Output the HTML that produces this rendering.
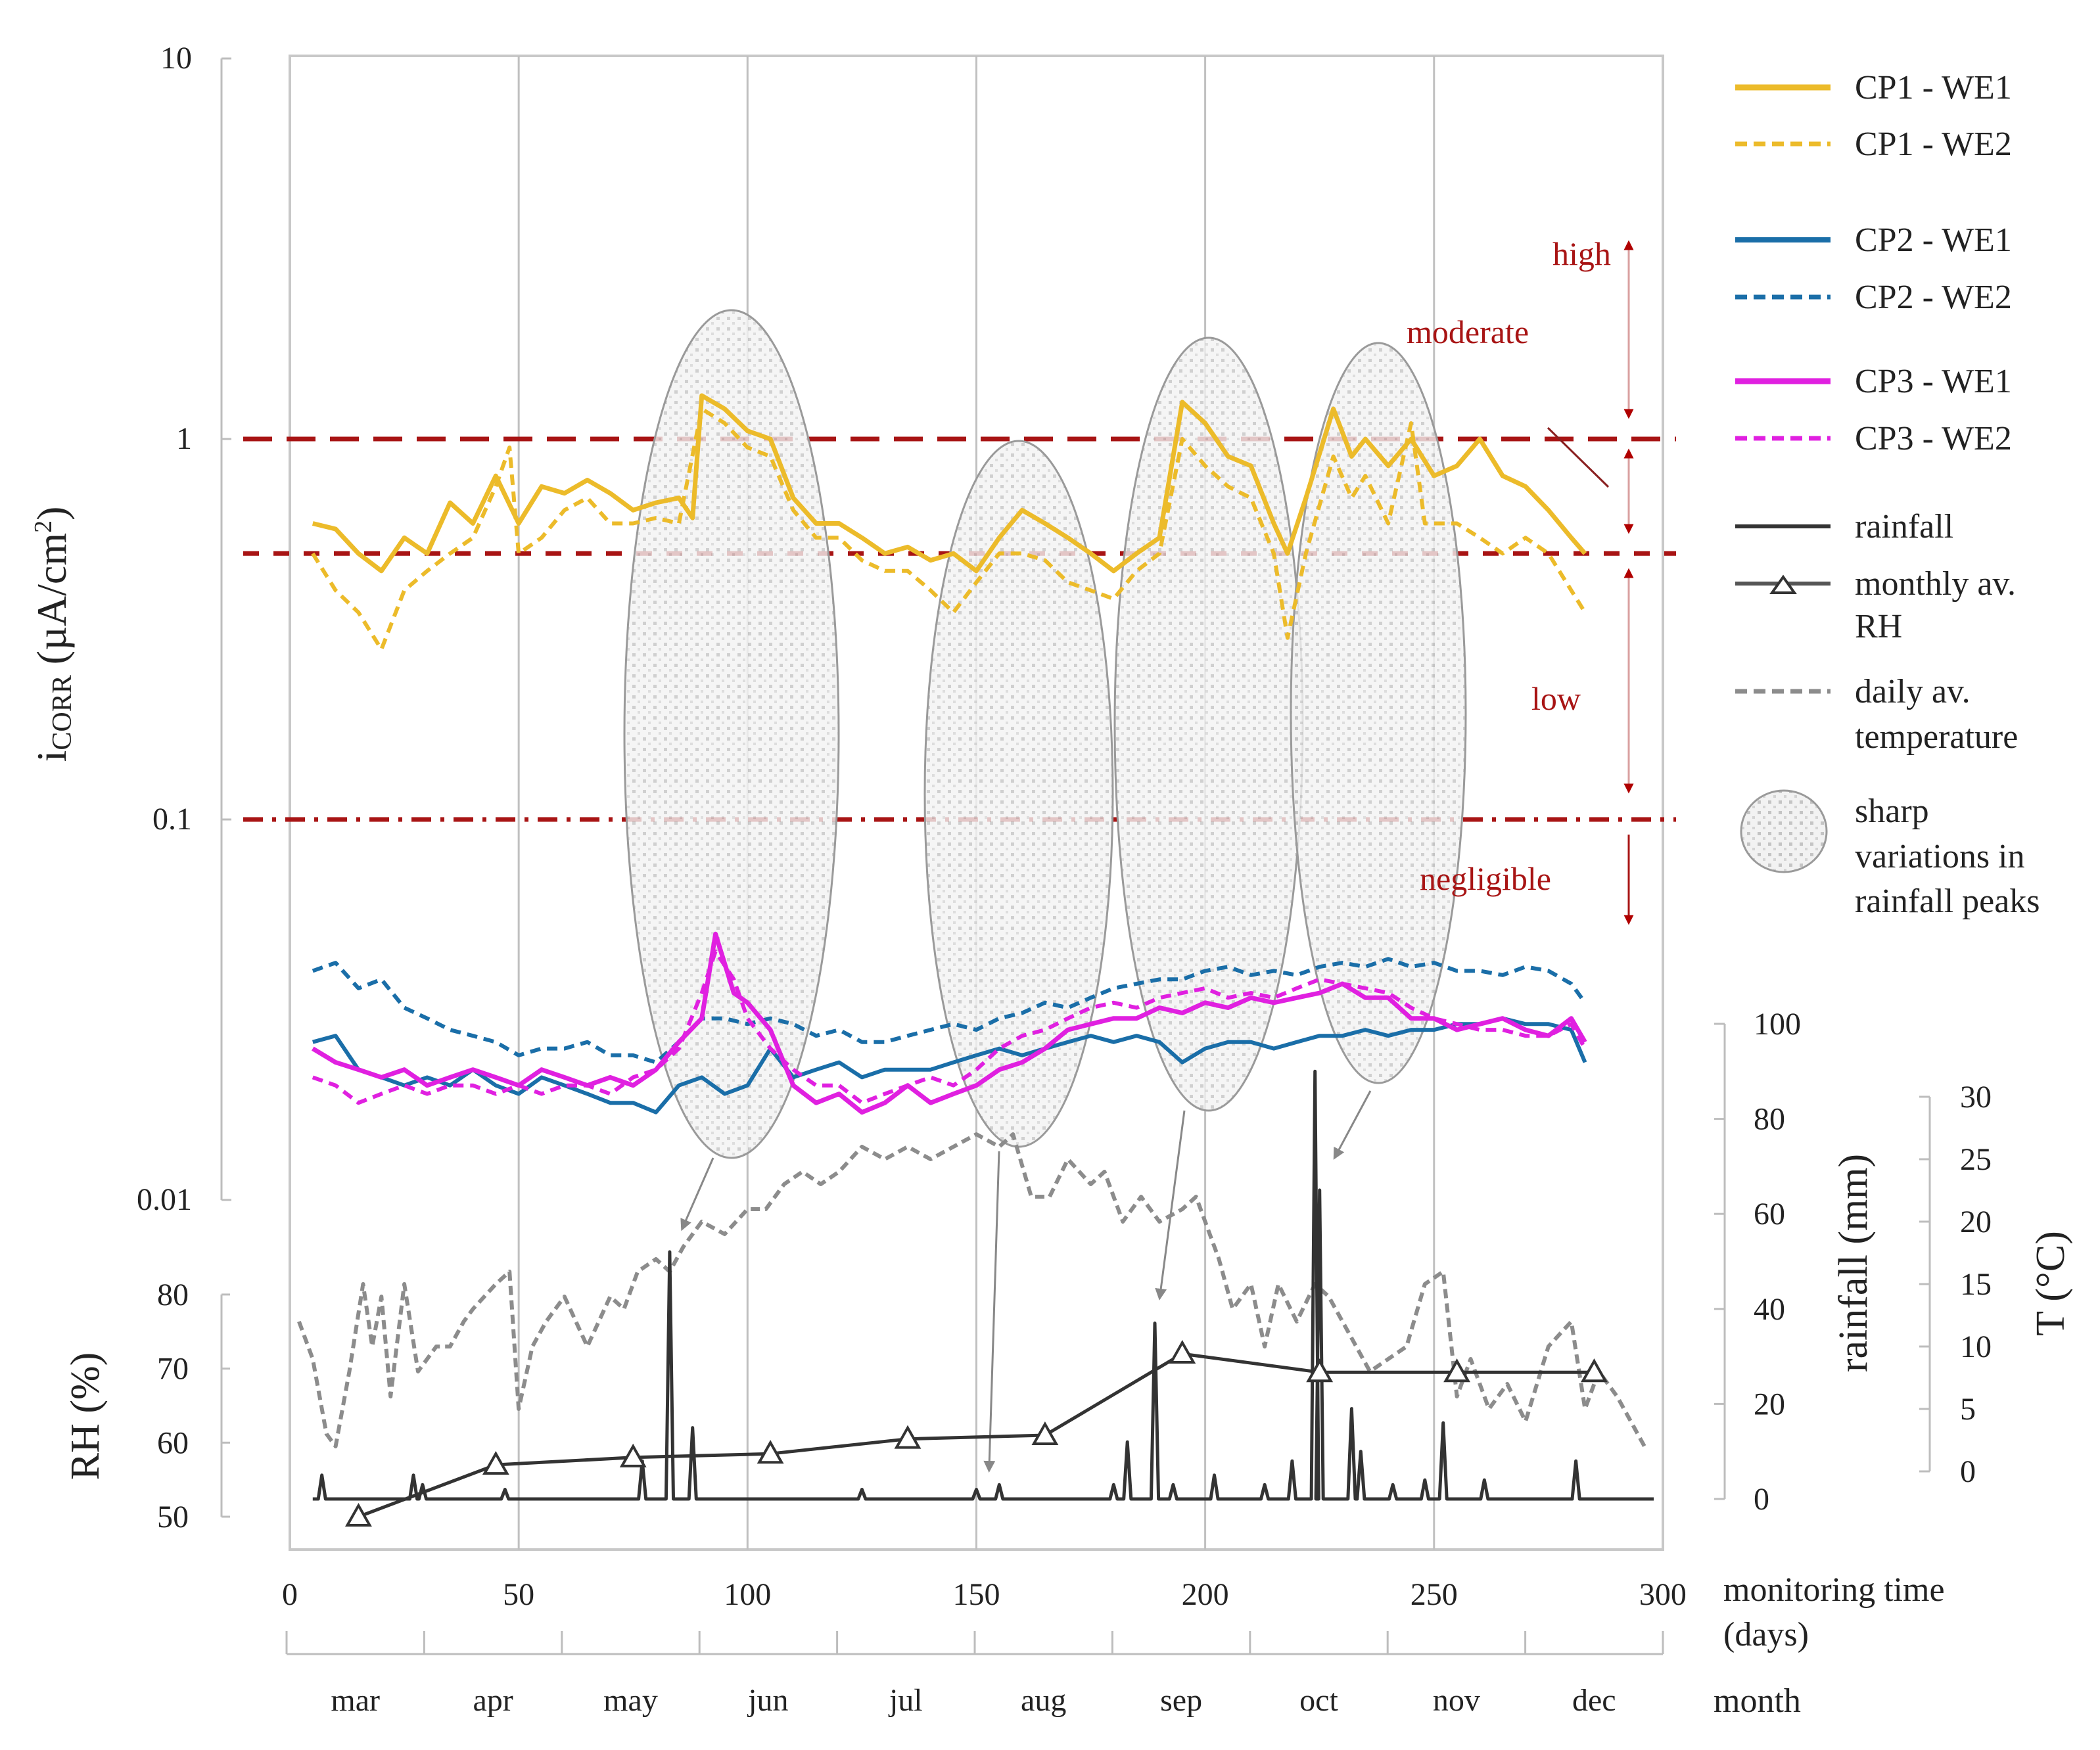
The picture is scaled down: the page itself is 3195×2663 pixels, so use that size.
<!DOCTYPE html>
<html><head><meta charset="utf-8"><style>
html,body{margin:0;padding:0;background:#fff;}
svg{display:block;font-family:"Liberation Serif",serif;}
</style></head><body>
<svg id="chart" width="3195" height="2663" viewBox="0 0 3195 2663" xmlns="http://www.w3.org/2000/svg">
<defs>
<pattern id="dots" width="16" height="16" patternUnits="userSpaceOnUse">
<rect width="16" height="16" fill="#f2f2f2"/>
<rect x="2" y="2" width="5" height="5" fill="#c4c4c4"/>
<rect x="10" y="10" width="4" height="4" fill="#d4d4d4"/>
</pattern>
<marker id="redArrow" viewBox="0 0 10 10" refX="5" refY="5" markerWidth="5" markerHeight="5" orient="auto-start-reverse"><path d="M0,0 L10,5 L0,10 z" fill="#b00000"/></marker>
<marker id="grayArrow" viewBox="0 0 10 10" refX="5" refY="5" markerWidth="6" markerHeight="6" orient="auto"><path d="M0,0 L10,5 L0,10 z" fill="#888"/></marker>
</defs>
<g id="grid"></g>
<g id="ellipses"></g>
<g id="series"></g>
<g id="axes"></g>
<g id="legend"></g>
</svg>
<script>
// ---------- data ----------
const cp1we1Days=[5,10,15,20,25,30,35,40,45,50,55,60,65,70,75,80,85,88,90,95,100,105,110,115,120,125,130,135,140,145,150,155,160,165,170,175,180,185,190,195,200,205,210,215,218,222,228,232,235,240,245,250,255,260,265,270,275,280,283];
const cp1we1Vals=[0.6,0.58,0.5,0.45,0.55,0.5,0.68,0.6,0.8,0.6,0.75,0.72,0.78,0.72,0.65,0.68,0.7,0.62,1.3,1.2,1.05,1.0,0.7,0.6,0.6,0.55,0.5,0.52,0.48,0.5,0.45,0.55,0.65,0.6,0.55,0.5,0.45,0.5,0.55,1.25,1.1,0.9,0.85,0.6,0.5,0.7,1.2,0.9,1.0,0.85,1.0,0.8,0.85,1.0,0.8,0.75,0.65,0.55,0.5];
const cp1we2Days=[5,10,15,20,25,30,35,40,45,48,50,55,60,65,70,75,80,85,90,95,100,105,110,115,120,125,130,135,140,145,150,155,160,165,170,175,180,185,190,195,200,205,210,215,218,222,228,232,235,240,245,248,255,260,265,270,275,280,283];
const cp1we2Vals=[0.5,0.4,0.35,0.28,0.4,0.45,0.5,0.55,0.75,0.95,0.5,0.55,0.65,0.7,0.6,0.6,0.62,0.6,1.2,1.1,0.95,0.9,0.65,0.55,0.55,0.48,0.45,0.45,0.4,0.35,0.42,0.5,0.5,0.48,0.42,0.4,0.38,0.45,0.5,1.0,0.85,0.75,0.7,0.5,0.3,0.5,0.9,0.7,0.8,0.6,1.1,0.6,0.6,0.55,0.5,0.55,0.5,0.4,0.35];
const stdDays=[5,10,15,20,25,30,35,40,45,50,55,60,65,70,75,80,85,90,95,100,105,110,115,120,125,130,135,140,145,150,155,160,165,170,175,180,185,190,195,200,205,210,215,220,225,230,235,240,245,250,255,260,265,270,275,280,283];
const cp2we1Vals=[0.026,0.027,0.022,0.021,0.02,0.021,0.02,0.022,0.02,0.019,0.021,0.02,0.019,0.018,0.018,0.017,0.02,0.021,0.019,0.02,0.025,0.021,0.022,0.023,0.021,0.022,0.022,0.022,0.023,0.024,0.025,0.024,0.025,0.026,0.027,0.026,0.027,0.026,0.023,0.025,0.026,0.026,0.025,0.026,0.027,0.027,0.028,0.027,0.028,0.028,0.029,0.029,0.03,0.029,0.029,0.028,0.023];
const cp2we2Vals=[0.04,0.042,0.036,0.038,0.032,0.03,0.028,0.027,0.026,0.024,0.025,0.025,0.026,0.024,0.024,0.023,0.026,0.03,0.03,0.029,0.03,0.029,0.027,0.028,0.026,0.026,0.027,0.028,0.029,0.028,0.03,0.031,0.033,0.032,0.034,0.036,0.037,0.038,0.038,0.04,0.041,0.039,0.04,0.039,0.041,0.042,0.041,0.043,0.041,0.042,0.04,0.04,0.039,0.041,0.04,0.037,0.033];
const cp3Days=[5,10,15,20,25,30,35,40,45,50,55,60,65,70,75,80,85,90,93,97,100,105,110,115,120,125,130,135,140,145,150,155,160,165,170,175,180,185,190,195,200,205,210,215,220,225,230,235,240,245,250,255,260,265,270,275,280,283];
const cp3we1Vals=[0.025,0.023,0.022,0.021,0.022,0.02,0.021,0.022,0.021,0.02,0.022,0.021,0.02,0.021,0.02,0.022,0.026,0.03,0.05,0.035,0.033,0.028,0.02,0.018,0.019,0.017,0.018,0.02,0.018,0.019,0.02,0.022,0.023,0.025,0.028,0.029,0.03,0.03,0.032,0.031,0.033,0.032,0.034,0.033,0.034,0.035,0.037,0.034,0.034,0.03,0.03,0.028,0.029,0.03,0.028,0.027,0.03,0.026];
const cp3we2Vals=[0.021,0.02,0.018,0.019,0.02,0.019,0.02,0.02,0.019,0.02,0.019,0.02,0.02,0.019,0.021,0.022,0.025,0.035,0.045,0.038,0.03,0.025,0.022,0.02,0.02,0.018,0.019,0.02,0.021,0.02,0.022,0.025,0.027,0.028,0.03,0.032,0.033,0.032,0.034,0.035,0.036,0.034,0.035,0.034,0.036,0.038,0.037,0.036,0.035,0.032,0.03,0.029,0.028,0.028,0.027,0.027,0.029,0.025];
const tempDays=[2,5,8,10,13,16,18,20,22,25,28,32,35,38,40,45,48,50,53,56,60,65,70,73,76,80,83,86,90,95,100,104,108,112,116,120,125,130,135,140,145,150,155,158,162,166,170,175,178,182,186,190,195,198,200,203,206,210,213,216,220,224,227,230,233,236,240,244,248,252,255,258,262,266,270,275,280,283,286,290,293,296];
const tempVals=[12,9,3,2,8,15,10,14,6,15,8,10,10,12,13,15,16,5,10,12,14,10,14,13,16,17,16,18,20,19,21,21,23,24,23,24,26,25,26,25,26,27,26,27,22,22,25,23,24,20,22,20,21,22,20,17,13,15,10,15,12,15,14,12,10,8,9,10,15,16,6,9,5,7,4,10,12,5,8,6,4,2];
const rainDays=[7,27,29,47,77,83,88,125,150,155,180,183,189,193,202,213,219,224,225,232,234,241,248,252,261,281];
const rainVals=[5,5,3,2,8,52,15,2,2,3,3,12,37,3,5,3,8,90,65,19,10,3,4,16,4,8];
const rhDays=[15,45,75,105,135,165,195,225,255,285];
const rhVals=[50,57,58,58.5,60.5,61,72,69.5,69.5,69.5];
const xTicks=[0,50,100,150,200,250,300];
const icorrTicks=[10,1,0.1,0.01];
const rhTicks=[50,60,70,80];
const rainTicks=[0,20,40,60,80,100];
const tempTicks=[0,5,10,15,20,25,30];
const months=["mar","apr","may","jun","jul","aug","sep","oct","nov","dec"];

// ---------- scales ----------
const X=d=>441+d*6.963;
const Yi=v=>668-579*Math.log10(v);
const Yr=m=>2281-m*7.23;
const Yt=c=>2239-c*19;
const Yh=h=>2308-(h-50)*11.27;
const NS="http://www.w3.org/2000/svg";
function mk(tag,attrs,parent,text){const e=document.createElementNS(NS,tag);for(const k in attrs)e.setAttribute(k,attrs[k]);if(text!==undefined)e.textContent=text;parent.appendChild(e);return e;}
const grid=document.getElementById('grid'),ell=document.getElementById('ellipses'),ser=document.getElementById('series'),ax=document.getElementById('axes'),leg=document.getElementById('legend');

let fr=mk('rect',{x:441,y:85,width:2089,height:2273,fill:'none',stroke:'#c8c8c8','stroke-width':4},grid);


xTicks.slice(1,-1).forEach(d=>{const l=mk('line',{x1:X(d),x2:X(d),y1:85,y2:2358,stroke:'#c0c0c0','stroke-width':3},grid);

});

[[1,'44 22'],[0.5,'24 22'],[0.1,'30 14 6 14']].forEach(([v,da])=>{const l=mk('line',{x1:370,x2:2550,y1:Yi(v),y2:Yi(v),stroke:'#a81414','stroke-width':7,'stroke-dasharray':da},grid);

});

[[1113,1117,163,645],[1550,1208,143,537],[1839,1102,143,588],[2097,1085,133,563]].forEach(e=>{const el=mk('ellipse',{cx:e[0],cy:e[1],rx:e[2],ry:e[3],fill:'url(#dots)','fill-opacity':0.8,stroke:'#9a9a9a','stroke-width':3},ell);

});
[[1085,1762,1040,1865],[1520,1752,1505,2232],[1802,1690,1765,1970],[2085,1660,2033,1757]].forEach(a=>{const l=mk('line',{x1:a[0],y1:a[1],x2:a[2],y2:a[3],stroke:'#888','stroke-width':3,'marker-end':'url(#grayArrow)'},ell);

});

function line(days,vals,ys,style,name){const d=days.map((t,i)=>(i?'L':'M')+X(t).toFixed(1)+','+ys(vals[i]).toFixed(1)).join(' ');const p=mk('path',Object.assign({d:d,fill:'none','stroke-linejoin':'round'},style),ser);

return p;}

line(tempDays,tempVals,Yt,{stroke:'#8c8c8c','stroke-width':6,'stroke-dasharray':'14 8'},'temperature-line');
(function(){let pts=[[5,0]];rainDays.forEach((d,i)=>{pts.push([d-0.8,0],[d,rainVals[i]],[d+0.8,0]);});pts.push([298,0]);
const p=mk('path',{d:pts.map((q,i)=>(i?'L':'M')+X(q[0]).toFixed(1)+','+Yr(q[1]).toFixed(1)).join(' '),fill:'none',stroke:'#333','stroke-width':5,'stroke-linejoin':'round'},ser);

})();
line(rhDays,rhVals,Yh,{stroke:'#333','stroke-width':5},'rh-line');
rhDays.forEach((d,i)=>{const x=X(d),y=Yh(rhVals[i]);const t=mk('path',{d:`M${x-17},${y+13} L${x},${y-17} L${x+17},${y+13} Z`,fill:'#fff',stroke:'#333','stroke-width':4},ser);

});
line(stdDays,cp2we2Vals,Yi,{stroke:'#1a6ea8','stroke-width':6,'stroke-dasharray':'16 10'},'cp2-we2-line');
line(stdDays,cp2we1Vals,Yi,{stroke:'#1a6ea8','stroke-width':6},'cp2-we1-line');
line(cp3Days,cp3we2Vals,Yi,{stroke:'#e020e0','stroke-width':6,'stroke-dasharray':'16 10'},'cp3-we2-line');
line(cp3Days,cp3we1Vals,Yi,{stroke:'#e020e0','stroke-width':7},'cp3-we1-line');
line(cp1we2Days,cp1we2Vals,Yi,{stroke:'#ecbb2a','stroke-width':6,'stroke-dasharray':'16 10'},'cp1-we2-line');
line(cp1we1Days,cp1we1Vals,Yi,{stroke:'#ecbb2a','stroke-width':7},'cp1-we1-line');

const AX={stroke:'#bdbdbd','stroke-width':3};
let a=mk('line',Object.assign({x1:337,x2:337,y1:Yi(10),y2:Yi(0.01)},AX),ax);


icorrTicks.forEach(v=>{mk('line',Object.assign({x1:337,x2:352,y1:Yi(v),y2:Yi(v)},AX),ax);const t=mk('text',{x:292,y:Yi(v)+15,'font-size':48,'text-anchor':'end',fill:'#222'},ax,String(v));

});
a=mk('line',Object.assign({x1:337,x2:337,y1:Yh(80),y2:Yh(50)},AX),ax);


rhTicks.forEach(v=>{mk('line',Object.assign({x1:337,x2:350,y1:Yh(v),y2:Yh(v)},AX),ax);const t=mk('text',{x:287,y:Yh(v)+16,'font-size':48,'text-anchor':'end',fill:'#222'},ax,String(v));

});
a=mk('line',Object.assign({x1:2624,x2:2624,y1:Yr(100),y2:Yr(0)},AX),ax);


rainTicks.forEach(v=>{mk('line',Object.assign({x1:2608,x2:2624,y1:Yr(v),y2:Yr(v)},AX),ax);const t=mk('text',{x:2668,y:Yr(v)+16,'font-size':48,fill:'#222'},ax,String(v));

});
a=mk('line',Object.assign({x1:2936,x2:2936,y1:Yt(30),y2:Yt(0)},AX),ax);


tempTicks.forEach(v=>{mk('line',Object.assign({x1:2920,x2:2936,y1:Yt(v),y2:Yt(v)},AX),ax);const t=mk('text',{x:2982,y:Yt(v)+16,'font-size':48,fill:'#222'},ax,String(v));

});
xTicks.forEach(d=>{const t=mk('text',{x:X(d),y:2442,'font-size':48,'text-anchor':'middle',fill:'#222'},ax,String(d));

});
a=mk('line',Object.assign({x1:436,x2:2530,y1:2517,y2:2517},AX),ax);


months.forEach((m,i)=>{const x0=436+i*209.4;mk('line',Object.assign({x1:x0,x2:x0,y1:2482,y2:2517},AX),ax);const t=mk('text',{x:x0+104.7,y:2603,'font-size':48,'text-anchor':'middle',fill:'#222'},ax,m);

});
mk('line',Object.assign({x1:2530,x2:2530,y1:2482,y2:2517},AX),ax);

function txt(x,y,s,size,name,extra){const t=mk('text',Object.assign({x:x,y:y,'font-size':size,fill:'#222'},extra||{}),ax,s);

return t;}
let yt=txt(0,0,'',64,'icorr-axis-title',{transform:'translate(100,965) rotate(-90)','text-anchor':'middle'});
yt.innerHTML='i<tspan font-size="42" dy="8">CORR</tspan><tspan dy="-8"> (µA/cm</tspan><tspan font-size="38" dy="-22">2</tspan><tspan dy="22">)</tspan>';
txt(0,0,'RH (%)',62,'rh-axis-title',{transform:'translate(150,2155) rotate(-90)','text-anchor':'middle'});
txt(0,0,'rainfall (mm)',62,'rainfall-axis-title',{transform:'translate(2840,1922) rotate(-90)','text-anchor':'middle'});
txt(0,0,'T (°C)',62,'temperature-axis-title',{transform:'translate(3140,1953) rotate(-90)','text-anchor':'middle'});
txt(2622,2436,'monitoring time',52,'x-axis-title');
txt(2622,2504,'(days)',52,'x-axis-title-unit');
txt(2607,2605,'month',52,'month-axis-title');

[['high',2362,403],['moderate',2140,522],['low',2330,1080],['negligible',2160,1354]].forEach(z=>txt(z[1],z[2],z[0],50,'zone-label-'+z[0],{fill:'#a81414'}));
[[373,630,true],[690,805,true],[872,1200,true],[1270,1400,false]].forEach(r=>{const l=mk('line',{x1:2478,x2:2478,y1:r[0],y2:r[1],stroke:r[2]?'#d9a0a0':'#a81414','stroke-width':3,'marker-end':'url(#redArrow)','marker-start':r[2]?'url(#redArrow)':''},ax);

});
a=mk('line',{x1:2355,y1:651,x2:2447,y2:741,stroke:'#8a2020','stroke-width':3},ax);



const lg=[['CP1 - WE1',133,'#ecbb2a',null,9],['CP1 - WE2',219,'#ecbb2a','18 10',7],['CP2 - WE1',365,'#1a6ea8',null,8],['CP2 - WE2',452,'#1a6ea8','18 10',7],['CP3 - WE1',580,'#e020e0',null,9],['CP3 - WE2',667,'#e020e0','18 10',7],['rainfall',801,'#333',null,6],['monthly av.',888,'#555',null,6],['daily av.',1052,'#8c8c8c','18 10',7]];
lg.forEach(e=>{const l=mk('line',{x1:2640,x2:2785,y1:e[1],y2:e[1],stroke:e[2],'stroke-width':e[4],'stroke-dasharray':e[3]||'none'},leg);


const t=mk('text',{x:2822,y:e[1]+17,'font-size':52,fill:'#222'},leg,e[0]);

});
a=mk('path',{d:'M2696,902 L2713,878 L2730,902 Z',fill:'#fff',stroke:'#333','stroke-width':4},leg);


[['RH',2822,970],['temperature',2822,1138],['sharp',2822,1251],['variations in',2822,1320],['rainfall peaks',2822,1388]].forEach(e=>{const t=mk('text',{x:e[1],y:e[2],'font-size':52,fill:'#222'},leg,e[0]);

});
a=mk('ellipse',{cx:2714,cy:1265,rx:65,ry:62,fill:'url(#dots)',stroke:'#9a9a9a','stroke-width':3},leg);


</script>
</body></html>
